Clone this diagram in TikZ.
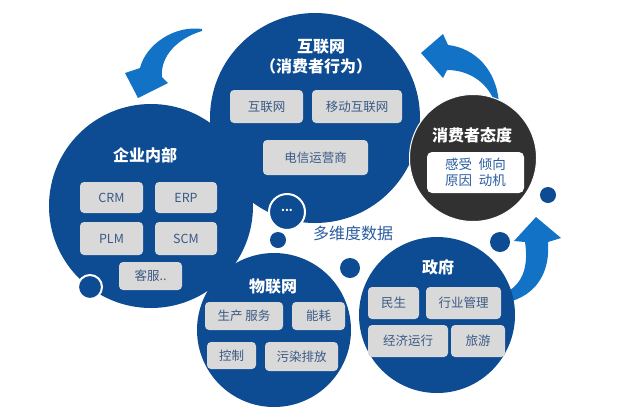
\documentclass[tikz,border=0pt]{standalone}
\usepackage{fontspec}
\setmainfont{Noto Sans CJK SC}
\definecolor{navy}{HTML}{0D4B93}
\definecolor{arrowblue}{HTML}{1272C6}
\definecolor{darkc}{HTML}{313131}
\definecolor{boxgray}{HTML}{D9D9D9}
\definecolor{boxtext}{HTML}{3A5A85}
\definecolor{labelblue}{HTML}{2B5DA0}
\begin{document}
\begin{tikzpicture}[x=1pt,y=-1pt,
  bigc/.style={circle,fill=navy,inner sep=0pt},
  dot/.style={circle,fill=navy,inner sep=0pt},
  ringdot/.style={circle,fill=navy,draw=white,line width=2pt,inner sep=0pt},
  gbox/.style={fill=boxgray,rounded corners=4pt,text=boxtext,inner sep=0pt,
    minimum height=32pt,font=\fontsize{12.5}{14}\selectfont},
  title/.style={text=white,font=\fontsize{16}{18}\selectfont\bfseries,inner sep=0pt},
  arr/.style={fill=arrowblue}]
\useasboundingbox (0,0) rectangle (639,418);
\fill[white] (0,0) rectangle (639,418);

% curved arrows
\fill[arr] (202,29) .. controls (175,25) and (146,44) .. (140,68)
  -- (125,73) -- (138,98) -- (168,83) -- (162,77)
  .. controls (160,56) and (178,38) .. (202,31) -- cycle;
\fill[arr] (421,53) -- (443,34) -- (448,45)
  .. controls (475,48) and (497,70) .. (499,104)
  -- (495,104) .. controls (490,86) and (472,70) .. (447,70)
  -- (443,78) -- cycle;
\fill[arr] (536,217) -- (561,238) -- (548,242)
  .. controls (550,268) and (540,292) .. (512,301)
  -- (510,290) .. controls (525,280) and (528,262) .. (525,242)
  -- (514,241) -- cycle;

% main circles
\node[bigc,minimum size=210pt] (inet) at (315,118) {};
\node[bigc,minimum size=204pt] (ent) at (151,206) {};
\node[bigc,minimum size=154pt] (iot) at (274,330) {};
\node[bigc,minimum size=156pt] (gov) at (437,315) {};
\node[circle,fill=darkc,draw=white,line width=1pt,inner sep=0pt,minimum size=127pt] (att) at (473,158) {};

% small dots
\node[ringdot,minimum size=36pt] (more) at (287,212) {};
\node[text=white,font=\fontsize{11}{12}\selectfont\bfseries] (moretxt) at (287,210) {...};
\node[ringdot,minimum size=24pt] (d1) at (90,287) {};
\node[dot,minimum size=16pt] (d2) at (278,240) {};
\node[dot,minimum size=20pt] (d3) at (350,268) {};
\node[dot,minimum size=20pt] (d4) at (500,242) {};
\node[dot,minimum size=16pt] (d5) at (548,195) {};

% internet
\node[title] (t1) at (321,47) {互联网};
\node[title] (t1b) at (316,66) {（消费者行为）};
\node[gbox,minimum width=73pt,minimum height=33pt] (b1) at (266.5,106.5) {互联网};
\node[gbox,minimum width=90pt,minimum height=33pt] (b2) at (357,106.5) {移动互联网};
\node[gbox,minimum width=105pt,minimum height=35pt] (b3) at (315.5,157.5) {电信运营商};

% enterprise
\node[title] (t2) at (145,155) {企业内部};
\node[gbox,minimum width=63pt,minimum height=31pt] (e1) at (111.5,197.5) {CRM};
\node[gbox,minimum width=62pt,minimum height=31pt] (e2) at (186,197.5) {ERP};
\node[gbox,minimum width=63pt,minimum height=33pt] (e3) at (111.5,238.5) {PLM};
\node[gbox,minimum width=62pt,minimum height=33pt] (e4) at (186,238.5) {SCM};
\node[gbox,minimum width=63pt,minimum height=28pt] (e5) at (150.5,276) {客服..};

% IoT
\node[title] (t3) at (273,287) {物联网};
\node[gbox,minimum width=78pt,minimum height=28pt] (i1) at (244,316) {生产 服务};
\node[gbox,minimum width=53pt,minimum height=28pt] (i2) at (318.5,316) {能耗};
\node[gbox,minimum width=49pt,minimum height=27pt] (i3) at (231.5,355.5) {控制};
\node[gbox,minimum width=73pt,minimum height=29pt] (i4) at (301.5,356.5) {污染排放};

% government
\node[title] (t4) at (438,267) {政府};
\node[gbox,minimum width=51pt] (g1) at (393.5,303) {民生};
\node[gbox,minimum width=75pt] (g2) at (463.5,303) {行业管理};
\node[gbox,minimum width=80pt] (g3) at (408,341) {经济运行};
\node[gbox,minimum width=54pt] (g4) at (478,341) {旅游};

% attitude
\node[title] (t5) at (472,135) {消费者态度};
\node[fill=white,rounded corners=5pt,minimum width=97pt,minimum height=41pt,
  inner sep=0pt,text=labelblue,align=center,
  font=\fontsize{13.5}{16.5}\selectfont] (ab) at (475.5,172.5)
  {感受\hspace{0.5em}倾向\\原因\hspace{0.5em}动机};

% center label
\node[text=labelblue,font=\fontsize{16}{18}\selectfont] (multi) at (353,233) {多维度数据};
\end{tikzpicture}
\end{document}
